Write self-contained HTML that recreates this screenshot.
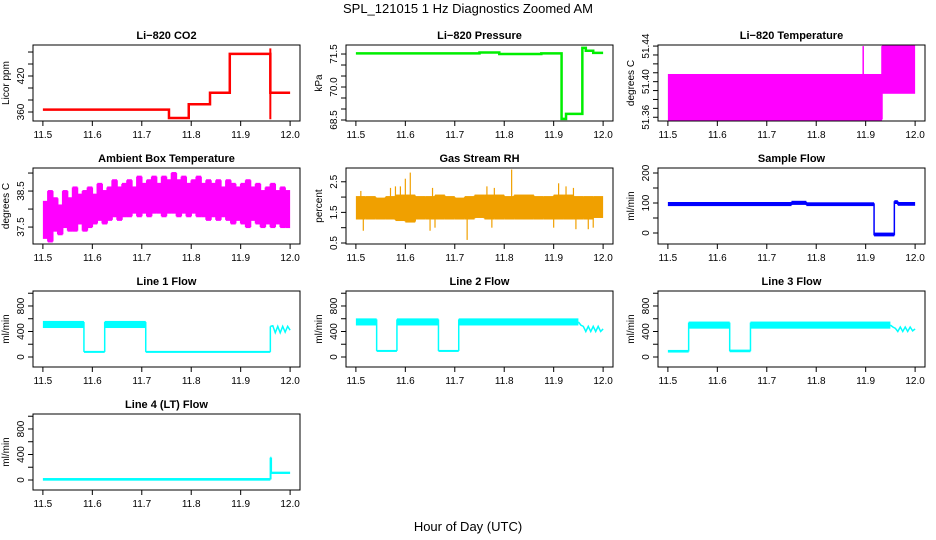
<!DOCTYPE html>
<html><head><meta charset="utf-8"><style>
html,body{margin:0;padding:0;background:#fff;}
svg{display:block;font-family:"Liberation Sans",sans-serif;}
</style></head><body>
<svg id="c" width="936" height="540" viewBox="0 0 936 540">
<text x="468" y="13" text-anchor="middle" font-size="13">SPL_121015  1 Hz Diagnostics Zoomed AM</text>
<text x="468" y="531" text-anchor="middle" font-size="13">Hour of Day (UTC)</text>
</svg>
<script>
// ---- data ----
const XTICKS=[11.5,11.6,11.7,11.8,11.9,12.0];
const CO2_T=[11.5,11.755,11.795,11.838,11.878,11.96,12.0];
const CO2_V=[364,350,373,392,457,392];
const P_T=[11.5,11.75,11.79,11.875,11.916,11.925,11.958,11.965,11.98,12.0];
const P_V=[71.53,71.57,71.5,71.53,68.55,68.78,71.78,71.65,71.55];
const TMP_T=[11.5,11.933,12.0];
const TMP_LO=[51.3575,51.3875];
const TMP_HI=[51.4075,51.44];
const AMB_T=[11.5,11.51,11.52,11.53,11.54,11.55,11.56,11.57,11.58,11.59,11.6,11.61,11.62,11.63,11.64,11.65,11.66,11.67,11.68,11.69,11.7,11.71,11.72,11.73,11.74,11.75,11.76,11.77,11.78,11.79,11.8,11.81,11.82,11.83,11.84,11.85,11.86,11.87,11.88,11.89,11.9,11.91,11.92,11.93,11.94,11.95,11.96,11.97,11.98,11.99,12.0];
const AMB_HI=[38.2,38.5,38.3,38.1,38.5,38.3,38.6,38.4,38.5,38.6,38.4,38.7,38.5,38.6,38.8,38.6,38.7,38.8,38.6,38.9,38.7,38.8,38.9,38.7,38.9,38.8,39.0,38.8,38.9,38.7,38.8,38.9,38.7,38.8,38.7,38.8,38.6,38.8,38.7,38.6,38.7,38.8,38.6,38.7,38.5,38.6,38.7,38.5,38.6,38.5];
const AMB_LO=[37.2,37.1,37.4,37.3,37.5,37.4,37.4,37.6,37.4,37.5,37.6,37.7,37.6,37.7,37.8,37.7,37.8,37.8,37.9,37.8,37.9,37.8,37.9,37.9,37.8,37.9,37.9,37.8,37.9,37.8,37.9,37.8,37.8,37.7,37.8,37.7,37.8,37.7,37.6,37.7,37.6,37.5,37.7,37.6,37.5,37.6,37.5,37.6,37.5,37.5];
const RH_T=[11.5,11.52,11.54,11.56,11.58,11.6,11.62,11.64,11.66,11.68,11.7,11.72,11.74,11.76,11.78,11.8,11.82,11.84,11.86,11.88,11.9,11.92,11.94,11.96,11.98,12.0];
const RH_HI=[2.0,2.0,1.95,2.0,2.05,2.05,2.0,2.0,2.05,2.0,1.95,2.0,2.05,2.05,2.05,2.0,2.05,2.05,2.0,2.0,2.05,2.05,2.0,2.0,2.0];
const RH_LO=[1.3,1.3,1.3,1.3,1.25,1.2,1.3,1.3,1.3,1.3,1.3,1.3,1.35,1.3,1.3,1.3,1.3,1.3,1.3,1.3,1.3,1.3,1.3,1.3,1.35];
const RH_SPK_T=[11.51,11.515,11.57,11.58,11.59,11.6,11.61,11.65,11.655,11.66,11.725,11.765,11.78,11.775,11.815,11.9,11.91,11.925,11.94,11.945,11.97,11.98];
const RH_SPK_V=[2.2,0.9,2.3,2.35,2.35,2.6,2.8,0.9,2.3,1.0,0.6,2.35,2.3,1.0,2.9,1.0,2.45,2.35,2.3,0.95,0.95,1.0];
const SF_T=[11.5,11.75,11.78,11.917,11.958,11.965,12.0];
const SF_LO=[93,97,93,-8,100,94];
const SF_HI=[100,104,99,-2,106,100];
const L1_T=[11.5,11.583,11.625,11.708,11.96];
const L1_LO=[470,80,470,80];
const L1_HI=[550,80,550,80];
const L2_T=[11.5,11.542,11.583,11.667,11.708,11.95];
const L2_LO=[510,95,510,95,510];
const L2_HI=[590,95,590,95,590];
const L3_T=[11.5,11.542,11.625,11.667,11.95];
const L3_LO=[85,460,90,460];
const L3_HI=[95,540,100,540];
const L4_T=[11.5,11.96,11.962,12.0];
const L4_LO=[5,350,110];
const L4_HI=[15,350,115];
const ZIG1_T=[11.96,11.965,11.97,11.975,11.98,11.985,11.99,11.995,12.0];
const Z1_V=[480,490,380,480,380,480,390,480,420];
const ZIG23_T=[11.95,11.955,11.96,11.965,11.97,11.975,11.98,11.985,11.99,11.995,12.0];
const Z2_V=[550,500,480,400,480,400,480,400,480,400,440];
const Z3_V=[500,470,450,400,470,400,470,400,470,410,440];

// ---- layout ----
const NS="http://www.w3.org/2000/svg";
const svg=document.getElementById('c');
const LEFTS=[33,346,658], TOPS=[45,168,291,414], W=267, H=76;
function mk(tag,attrs,parent){const e=document.createElementNS(NS,tag);for(const k in attrs)e.setAttribute(k,attrs[k]);(parent||svg).appendChild(e);return e;}

function panel(name,col,row,title,ylab,ylim,ticks,labels){
  const L=LEFTS[col],T=TOPS[row];
  const g=mk('g',{});
  
  
  const x=t=>L+(t-11.48)/0.54*W;
  const y=v=>T+H-(v-ylim[0])/(ylim[1]-ylim[0])*H;
  const tt=mk('text',{x:L+W/2,y:T-6,'text-anchor':'middle','font-size':11,'font-weight':'bold'},g);
  tt.textContent=title;
  
  
  const plot=mk('g',{},g);
  
  
  const box=mk('rect',{x:L,y:T,width:W,height:H,fill:'none',stroke:'#000','stroke-width':1},g);
  
  
  const xa=mk('g',{stroke:'#000'},g);
  
  
  mk('line',{x1:x(11.5),x2:x(12.0),y1:T+H,y2:T+H},xa);
  XTICKS.forEach(t=>{
    mk('line',{x1:x(t),x2:x(t),y1:T+H,y2:T+H+5},xa);
    const lb=mk('text',{x:x(t),y:T+H+17,'text-anchor':'middle','font-size':10,stroke:'none'},xa);
    lb.textContent=t.toFixed(1);
  });
  const ya=mk('g',{stroke:'#000'},g);
  
  
  mk('line',{x1:L,x2:L,y1:y(ticks[0]),y2:y(ticks[ticks.length-1])},ya);
  ticks.forEach(v=>mk('line',{x1:L-5,x2:L,y1:y(v),y2:y(v)},ya));
  labels.forEach(s=>{
    const v=parseFloat(s),yy=y(v);
    const lb=mk('text',{x:L-9,y:yy,'text-anchor':'middle','font-size':10,stroke:'none',transform:`rotate(-90 ${L-9} ${yy})`},ya);
    lb.textContent=s;
  });
  const yl=mk('text',{x:L-24,y:T+H/2,'text-anchor':'middle','font-size':10,transform:`rotate(-90 ${L-24} ${T+H/2})`},g);
  yl.textContent=ylab;
  
  
  return {x,y,plot};
}
function bands(p,Ts,LO,HI,color){
  for(let i=0;i<LO.length;i++){
    const x0=p.x(Ts[i]),x1=p.x(Ts[i+1]);
    const yh=p.y(HI[i]),yl=p.y(LO[i]);
    const r=mk('rect',{x:x0,y:Math.min(yh,yl)-1,width:Math.max(1,x1-x0),height:Math.max(2,Math.abs(yl-yh)+2),fill:color},p.plot);
    
    
    if(i<LO.length-1){
      const a=Math.min(p.y(HI[i]),p.y(HI[i+1])),b=Math.max(p.y(LO[i]),p.y(LO[i+1]));
      mk('line',{x1:x1,x2:x1,y1:a,y2:b,stroke:color,'stroke-width':1.5},p.plot);
    }
  }
}
function steps(p,Ts,V,color,w){
  let d='';
  for(let i=0;i<V.length;i++){
    d+=(i?'L':'M')+p.x(Ts[i])+' '+p.y(V[i])+'L'+p.x(Ts[i+1])+' '+p.y(V[i]);
  }
  const e=mk('path',{d,fill:'none',stroke:color,'stroke-width':w},p.plot);
  
  
}
function zig(p,Ts,V,color){
  const d=Ts.map((t,i)=>(i?'L':'M')+p.x(t)+' '+p.y(V[i])).join('');
  const e=mk('path',{d,fill:'none',stroke:color,'stroke-width':1.5},p.plot);
  
  
}
function vline(p,t,a,b,color,w){
  mk('line',{x1:p.x(t),x2:p.x(t),y1:p.y(a),y2:p.y(b),stroke:color,'stroke-width':w||1.5},p.plot);
}

// CO2
let p=panel('co2',0,0,'Li\u2212820 CO2','Licor ppm',[345,471.7],[360,380,400,420,440,460],['360','420']);
steps(p,CO2_T,CO2_V,'#ff0000',2.5);
vline(p,11.96,348,466,'#ff0000',2);
// Pressure
p=panel('pressure',1,0,'Li\u2212820 Pressure','kPa',[68.455,71.91],[68.5,69,69.5,70,70.5,71,71.5],['68.5','70.0','71.5']);
steps(p,P_T,P_V,'#00ee00',2.5);
// Temperature
p=panel('li820-temperature',2,0,'Li\u2212820 Temperature','degrees C',[51.3558,51.4412],[51.36,51.37,51.38,51.39,51.40,51.41,51.42,51.43,51.44],['51.36','51.40','51.44']);
bands(p,TMP_T,TMP_LO,TMP_HI,'#ff00ff');
vline(p,11.895,51.40,51.44,'#ff00ff',1.5);
// Ambient
p=panel('ambient-temperature',0,1,'Ambient Box Temperature','degrees C',[37.03,39.14],[37.5,38,38.5,39],['37.5','38.5']);
bands(p,AMB_T,AMB_LO,AMB_HI,'#ff00ff');
// RH
p=panel('gas-stream-rh',1,1,'Gas Stream RH','percent',[0.467,2.95],[0.5,1,1.5,2,2.5],['0.5','1.5','2.5']);
bands(p,RH_T,RH_LO,RH_HI,'#f0a000');
RH_SPK_T.forEach((t,i)=>vline(p,t,1.65,RH_SPK_V[i],'#f0a000',1.2));
// Sample flow
p=panel('sample-flow',2,1,'Sample Flow','ml/min',[-36.7,216.7],[0,50,100,150,200],['0','100','200']);
bands(p,SF_T,SF_LO,SF_HI,'#0000ff');
// Line flows
const FT=[0,200,400,600,800,1000],FL=['0','400','800'],FY=[-157,1035];
p=panel('line1-flow',0,2,'Line 1 Flow','ml/min',FY,FT,FL);
bands(p,L1_T,L1_LO,L1_HI,'#00ffff');zig(p,ZIG1_T,Z1_V,'#00ffff');vline(p,11.96,80,480,'#00ffff');
p=panel('line2-flow',1,2,'Line 2 Flow','ml/min',FY,FT,FL);
bands(p,L2_T,L2_LO,L2_HI,'#00ffff');zig(p,ZIG23_T,Z2_V,'#00ffff');
p=panel('line3-flow',2,2,'Line 3 Flow','ml/min',FY,FT,FL);
bands(p,L3_T,L3_LO,L3_HI,'#00ffff');zig(p,ZIG23_T,Z3_V,'#00ffff');
p=panel('line4-flow',0,3,'Line 4 (LT) Flow','ml/min',FY,FT,FL);
bands(p,L4_T,L4_LO,L4_HI,'#00ffff');vline(p,11.961,10,350,'#00ffff');
</script>
</body></html>
